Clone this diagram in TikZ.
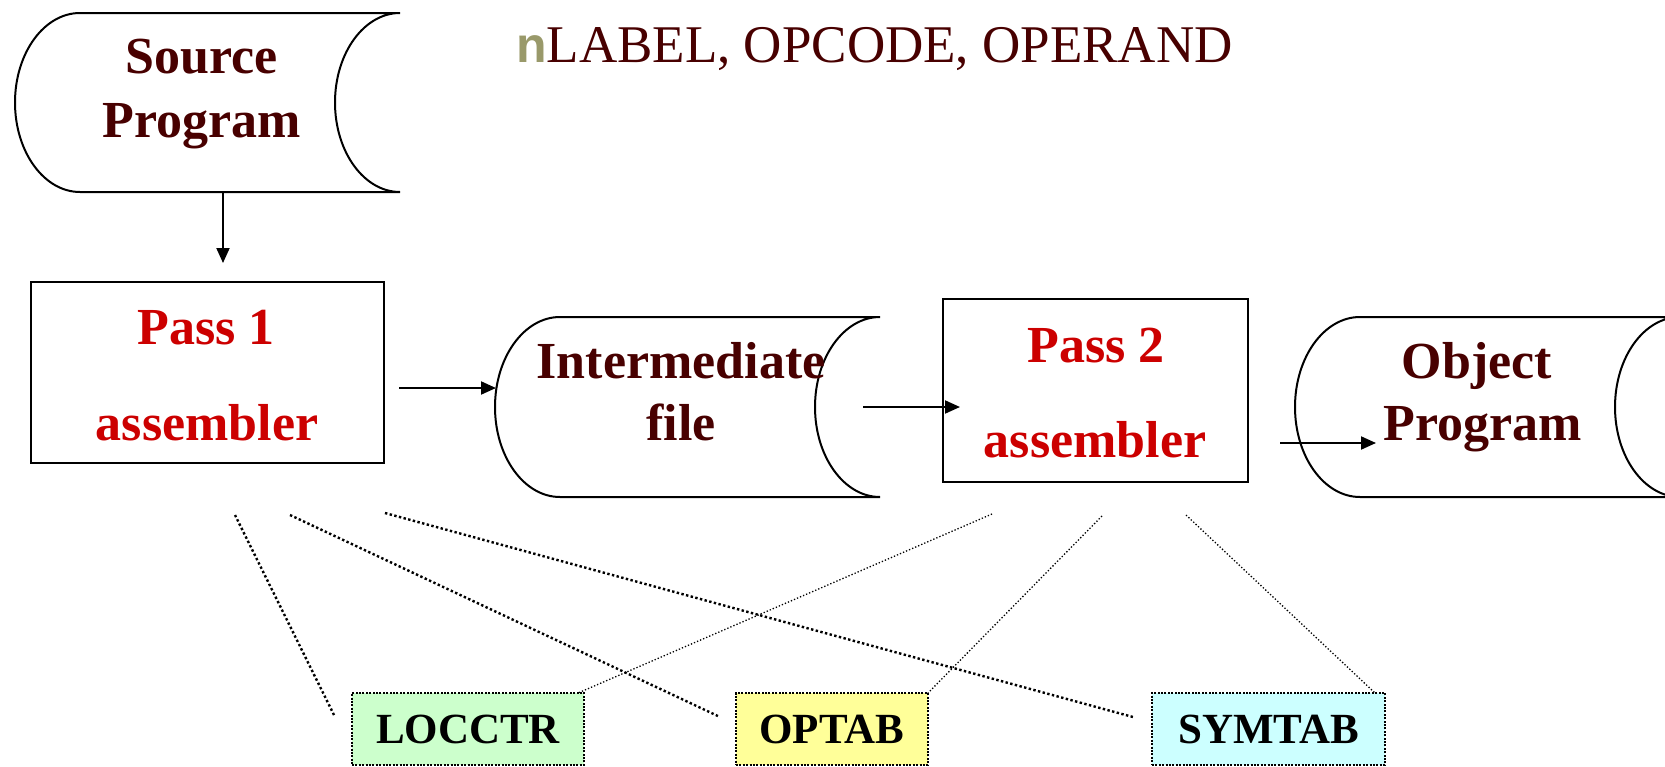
\documentclass[tikz,border=0pt]{standalone}
\usepackage{fontspec}
\setmainfont{Liberation Serif}
\newfontfamily\bulletfont{Liberation Sans}
\usetikzlibrary{arrows.meta}

\definecolor{txtmaroon}{HTML}{480000}
\definecolor{passred}{HTML}{CC0000}
\definecolor{bulletolive}{HTML}{99996A}
\definecolor{locfill}{HTML}{CCFFCC}
\definecolor{opfill}{HTML}{FFFF99}
\definecolor{symfill}{HTML}{CCFFFF}

% stored-data outline: #1 left tip, #2 right end, #3 top, #4 bottom
\newcommand\drawstored[4]{%
  \pgfmathsetmacro\sdmid{(#3+#4)/2}%
  \pgfmathsetmacro\sdry{(#4-#3)/2*0.5523}%
  \pgfmathsetmacro\sdkx{65*0.5523}%
  \draw[outline] ({#1+65},#3) -- (#2,#3)
     .. controls ({#2-\sdkx},#3) and ({#2-65},{\sdmid-\sdry}) .. ({#2-65},\sdmid)
     .. controls ({#2-65},{\sdmid+\sdry}) and ({#2-\sdkx},#4) .. (#2,#4)
     -- ({#1+65},#4)
     .. controls ({#1+65-\sdkx},#4) and (#1,{\sdmid+\sdry}) .. (#1,\sdmid)
     .. controls (#1,{\sdmid-\sdry}) and ({#1+65-\sdkx},#3) .. cycle;
}

\begin{document}
\begin{tikzpicture}[x=1pt,y=-1pt,
  outline/.style={draw=black,line width=2pt},
  passbox/.style={rectangle,draw=black,line width=2pt,inner sep=0pt},
  datatext/.style={anchor=base,inner sep=0pt,text=txtmaroon,
    font=\fontsize{52}{60}\bfseries\selectfont},
  passtext/.style={anchor=base,inner sep=0pt,text=passred,
    font=\fontsize{52}{60}\bfseries\selectfont},
  flow/.style={line width=2pt,-{Triangle[length=15pt,width=13pt]}},
  firstlink/.style={line width=2.4pt,dash pattern=on 2.4pt off 2.4pt},
  secondlink/.style={line width=1.3pt,dash pattern=on 1.3pt off 2pt},
  tabbox/.style={rectangle,draw=black,line width=2pt,
    dash pattern=on 2pt off 1.4pt,inner sep=0pt,minimum height=72pt,
    font=\fontsize{43}{50}\bfseries\selectfont},
]
\useasboundingbox (0,0) rectangle (1665,766);
\clip (0,0) rectangle (1665,766);

% heading
\node[anchor=base west,inner sep=0pt,text=txtmaroon,
  font=\fontsize{53}{60}\selectfont] (hdr) at (516,62)
  {{\bulletfont\bfseries\fontsize{50}{56}\selectfont\color{bulletolive}n}LABEL, OPCODE, OPERAND};

% stored-data symbols
\drawstored{15}{400}{13}{192}
\drawstored{495}{880}{317}{497}
\drawstored{1295}{1680}{317}{497}

\node[datatext] (srcA) at (202,73) {Source};
\node[datatext] (srcB) at (202,137) {Program};
\node[datatext] (midA) at (681,378) {Intermediate};
\node[datatext] (midB) at (681,440) {file};
\node[datatext] (objA) at (1477,378) {Object};
\node[datatext] (objB) at (1483,440) {Program};

% the two passes
\node[passbox,minimum width=353pt,minimum height=181pt] (p1) at (207.5,372.5) {};
\node[passbox,minimum width=305pt,minimum height=183pt] (p2) at (1095.5,390.5) {};
\node[passtext] (p1A) at (206,344) {Pass 1};
\node[passtext] (p1B) at (207,440) {assembler};
\node[passtext] (p2A) at (1096,362) {Pass 2};
\node[passtext] (p2B) at (1095,457) {assembler};

% flow arrows
\coordinate (f1s) at (223,192);  \coordinate (f1e) at (223,263);
\coordinate (f2s) at (399,388);  \coordinate (f2e) at (496,388);
\coordinate (f3s) at (863,407);  \coordinate (f3e) at (960,407);
\coordinate (f4s) at (1280,443); \coordinate (f4e) at (1376,443);
\draw[flow] (f1s) -- (f1e);
\draw[flow] (f2s) -- (f2e);
\draw[flow] (f3s) -- (f3e);
\draw[flow] (f4s) -- (f4e);

% links from the passes to the tables
\coordinate (a1) at (235,515);  \coordinate (a1e) at (335,717);
\coordinate (a2) at (290,515);  \coordinate (a2e) at (720,717);
\coordinate (a3) at (385,513);  \coordinate (a3e) at (1133,717);
\coordinate (b1) at (992,514);  \coordinate (b1e) at (578,693);
\coordinate (b2) at (1102,516); \coordinate (b2e) at (928,693);
\coordinate (b3) at (1186,515); \coordinate (b3e) at (1375,693);
\draw[firstlink] (a1) -- (a1e);
\draw[firstlink] (a2) -- (a2e);
\draw[firstlink] (a3) -- (a3e);
\draw[secondlink] (b1) -- (b1e);
\draw[secondlink] (b2) -- (b2e);
\draw[secondlink] (b3) -- (b3e);

% tables
\node[tabbox,fill=locfill,minimum width=232pt] (loc) at (468,729) {LOCCTR};
\node[tabbox,fill=opfill,minimum width=192pt] (opt) at (832,729) {OPTAB};
\node[tabbox,fill=symfill,minimum width=233pt] (sym) at (1268.5,729) {SYMTAB};
\end{tikzpicture}
\end{document}
